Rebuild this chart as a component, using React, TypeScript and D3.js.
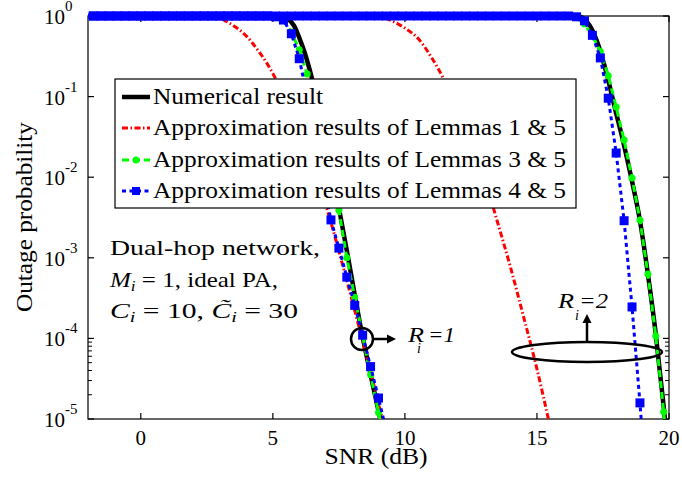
import React from "react";
import * as d3 from "d3";

// axis ticks
const xTickValues = [0, 5, 10, 15, 20];
const yTickExponents = [0, -1, -2, -3, -4, -5];
const yMinorTicks = [2e-5, 3e-5, 4e-5, 5e-5, 6e-5, 7e-5, 8e-5, 9e-5];

const legendLabels = [
  "Numerical result",
  "Approximation results of Lemmas 1 & 5",
  "Approximation results of Lemmas 3 & 5",
  "Approximation results of Lemmas 4 & 5",
];

// SNR (dB) sample grid of the marker curves: 0.3 dB steps starting at -2.1 dB
const snrGrid = d3.range(-7, 68).map((k) => k * 0.3);

// all outage values below are log10(outage probability)

// numerical result (solid black), sparse reading
const numR1Snr = [-2.1, 5.3, 5.55, 5.8, 6.0, 6.2, 6.5, 6.8, 7.1, 7.5, 7.85, 8.35, 8.7, 9.1];
const numR1 = [0, 0, -0.03, -0.12, -0.27, -0.45, -0.8, -1.22, -1.7, -2.38, -3.0, -3.9, -4.45, -5.05];
const numR2Snr = [-2.1, 16.5, 16.8, 17.0, 17.27, 17.65, 17.95, 18.26, 18.6, 18.9, 19.2, 19.5, 19.8, 20.0];
const numR2 = [0, 0, -0.04, -0.12, -0.31, -0.73, -1.14, -1.55, -2.05, -2.54, -3.2, -3.95, -4.85, -5.5];

// Lemmas 1 & 5 (red dash-dot)
const lem1R1Snr = [-2.1, 2.4, 2.8, 3.2, 3.6, 4.0, 4.4, 4.8, 5.2, 5.6, 6.0, 6.5, 7.1, 7.65, 8.2, 8.7, 9.2];
const lem1R1 = [0, 0, -0.01, -0.06, -0.14, -0.25, -0.41, -0.6, -0.84, -1.12, -1.42, -1.85, -2.45, -3.1, -3.78, -4.42, -5.07];
const lem1R2Snr = [-2.1, 8.5, 9.0, 9.5, 10.0, 10.5, 11.0, 11.5, 12.0, 12.5, 13.0, 13.5, 14.0, 14.5, 15.0, 15.5];
const lem1R2 = [0, 0, -0.01, -0.06, -0.15, -0.28, -0.51, -0.8, -1.15, -1.55, -2.0, -2.55, -3.12, -3.74, -4.38, -5.1];

// Lemmas 3 & 5 (green, circles) on snrGrid
const lem3R1 = [
  0, 0, 0, 0, 0, 0, 0, 0, 0, 0,
  0, 0, 0, 0, 0, 0, 0, 0, 0, 0,
  0, 0, 0, 0, -0.01, -0.05, -0.2, -0.42, -0.72, -1.1,
  -1.5, -1.95, -2.41, -3.0, -3.49, -3.97, -4.45, -4.92, -5.4,
];
const lem3R2 = [
  0, 0, 0, 0, 0, 0, 0, 0, 0, 0,
  0, 0, 0, 0, 0, 0, 0, 0, 0, 0,
  0, 0, 0, 0, 0, 0, 0, 0, 0, 0,
  0, 0, 0, 0, 0, 0, 0, 0, 0, 0,
  0, 0, 0, 0, 0, 0, 0, 0, 0, 0,
  0, 0, 0, 0, 0, 0, 0, 0, 0, 0,
  0, 0, -0.02, -0.1, -0.24, -0.44, -0.74, -1.13, -1.54, -2.01,
  -2.53, -3.2, -3.97, -4.91, -6.0,
];

// Lemmas 4 & 5 (blue, squares) on snrGrid
const lem4R1 = [
  0, 0, 0, 0, 0, 0, 0, 0, 0, 0,
  0, 0, 0, 0, 0, 0, 0, 0, 0, 0,
  0, 0, 0, 0, -0.01, -0.05, -0.22, -0.53, -1.0, -1.5,
  -2.05, -2.53, -2.88, -3.24, -3.59, -3.96, -4.35, -4.74, -5.15,
];
const lem4R2 = [
  0, 0, 0, 0, 0, 0, 0, 0, 0, 0,
  0, 0, 0, 0, 0, 0, 0, 0, 0, 0,
  0, 0, 0, 0, 0, 0, 0, 0, 0, 0,
  0, 0, 0, 0, 0, 0, 0, 0, 0, 0,
  0, 0, 0, 0, 0, 0, 0, 0, 0, 0,
  0, 0, 0, 0, 0, 0, 0, 0, 0, 0,
  0, 0, -0.01, -0.06, -0.24, -0.52, -1.02, -1.7, -2.54, -3.61,
  -4.8, -6.1,
];

const W = 682;
const H = 478;
const left = 88;
const right = 669;
const top = 16;
const bottom = 419;

const FONT = "'Liberation Serif', 'Times New Roman', serif";

type Pt = [number, number];

const zip = (snr: number[], vals: number[]): Pt[] => vals.map((v, i) => [snr[i], v]);

export default function App() {
  const x = d3.scaleLinear().domain([-2, 20]).range([left, right]);
  const y = d3.scaleLog().domain([1e-5, 1]).range([bottom, top]);
  const py = (l: number) => y(Math.pow(10, l));

  const smooth = d3.line<Pt>().x((d) => x(d[0])).y((d) => py(d[1])).curve(d3.curveMonotoneX);
  const straight = d3.line<Pt>().x((d) => x(d[0])).y((d) => py(d[1]));

  const inView = (d: Pt) => d[0] >= -2 && d[0] <= 20 && d[1] >= -5;

  const lem3Sets = [zip(snrGrid, lem3R1), zip(snrGrid, lem3R2)];
  const lem4Sets = [zip(snrGrid, lem4R1), zip(snrGrid, lem4R2)];

  const black = { stroke: "#000", strokeWidth: 4.5, fill: "none" };
  const red = { stroke: "#ff0000", strokeWidth: 3, fill: "none", strokeDasharray: "6,2.5,1.5,2.5" };
  const green = { stroke: "#00ff00", strokeWidth: 3, fill: "none", strokeDasharray: "7,4" };
  const blue = { stroke: "#0000ff", strokeWidth: 3, fill: "none", strokeDasharray: "4,3.5" };

  const legendRows = [97, 128, 160, 191];

  return (
    <svg
      width={W}
      height={H}
      style={{ position: "absolute", left: 0, top: 0, background: "#fff" }}
      fontFamily={FONT}
    >
      <defs>
        <clipPath id="plotClip">
          <rect x={left} y={top - 10} width={right - left} height={bottom - top + 10} />
        </clipPath>
      </defs>

      {/* axes box */}
      <rect x={left} y={top} width={right - left} height={bottom - top} fill="none" stroke="#000" strokeWidth={1.2} />

      {/* x ticks */}
      {xTickValues.map((t) => (
        <g key={"x" + t}>
          <line x1={x(t)} x2={x(t)} y1={bottom} y2={bottom - 6} stroke="#000" strokeWidth={1.2} />
          <line x1={x(t)} x2={x(t)} y1={top} y2={top + 6} stroke="#000" strokeWidth={1.2} />
          <text x={x(t)} y={445} fontSize={21} textAnchor="middle">{t}</text>
        </g>
      ))}

      {/* y ticks */}
      {yTickExponents.map((e) => {
        const yy = y(Math.pow(10, e));
        return (
          <g key={"y" + e}>
            <line x1={left} x2={left + 6} y1={yy} y2={yy} stroke="#000" strokeWidth={1.2} />
            <line x1={right} x2={right - 6} y1={yy} y2={yy} stroke="#000" strokeWidth={1.2} />
            <text x={65} y={yy + 8} fontSize={21} textAnchor="end">10</text>
            <text x={65} y={yy - 5} fontSize={15}>{e === 0 ? "0" : "-" + Math.abs(e)}</text>
          </g>
        );
      })}
      {yMinorTicks.map((t) => (
        <g key={"m" + t}>
          <line x1={left} x2={left + 4} y1={y(t)} y2={y(t)} stroke="#000" strokeWidth={1} />
          <line x1={right} x2={right - 4} y1={y(t)} y2={y(t)} stroke="#000" strokeWidth={1} />
        </g>
      ))}

      {/* axis labels */}
      <text x={376} y={464} fontSize={24} textAnchor="middle" textLength={103} lengthAdjust="spacingAndGlyphs">
        SNR (dB)
      </text>
      <text
        transform={`translate(32, 217) rotate(-90)`}
        fontSize={24}
        textAnchor="middle"
        textLength={190}
        lengthAdjust="spacingAndGlyphs"
      >
        Outage probability
      </text>

      {/* curves */}
      <g clipPath="url(#plotClip)">
        <path d={smooth(zip(numR1Snr, numR1)) || ""} {...black} />
        <path d={smooth(zip(numR2Snr, numR2)) || ""} {...black} />
        <path d={smooth(zip(lem1R1Snr, lem1R1)) || ""} {...red} />
        <path d={smooth(zip(lem1R2Snr, lem1R2)) || ""} {...red} />
        {lem3Sets.map((s, i) => (
          <path key={"g" + i} d={straight(s) || ""} {...green} />
        ))}
      </g>
      {lem3Sets.map((s, i) =>
        s.filter(inView).map((d, j) => (
          <circle key={"gc" + i + "-" + j} cx={x(d[0])} cy={py(d[1])} r={3.5} fill="#00ff00" />
        ))
      )}
      <g clipPath="url(#plotClip)">
        {lem4Sets.map((s, i) => (
          <path key={"b" + i} d={straight(s) || ""} {...blue} />
        ))}
      </g>
      {lem4Sets.map((s, i) =>
        s.filter(inView).map((d, j) => (
          <rect key={"bs" + i + "-" + j} x={x(d[0]) - 4.5} y={py(d[1]) - 4.5} width={9} height={9} fill="#0000ff" />
        ))
      )}

      {/* legend */}
      <rect x={115} y={79} width={461} height={129} fill="#fff" stroke="#000" strokeWidth={1.2} />
      {legendLabels.map((lab, i) => {
        const ly = legendRows[i];
        const style = [black, red, green, blue][i];
        return (
          <g key={"lg" + i}>
            <line x1={122} x2={150} y1={ly} y2={ly} {...style} />
            {i === 2 && <circle cx={136} cy={ly} r={3.5} fill="#00ff00" />}
            {i === 3 && <rect x={132} y={ly - 4} width={8} height={8} fill="#0000ff" />}
            <text x={153} y={ly + 7} fontSize={23} textLength={i === 0 ? 170 : 413} lengthAdjust="spacingAndGlyphs">
              {lab}
            </text>
          </g>
        );
      })}

      {/* scenario text */}
      <g fontSize={22}>
        <text x={110} y={255} textLength={210} lengthAdjust="spacingAndGlyphs">Dual-hop network,</text>
        <text x={110} y={287} textLength={168} lengthAdjust="spacingAndGlyphs">
          <tspan fontStyle="italic">M</tspan>
          <tspan fontStyle="italic" fontSize={15} dy={4}>i</tspan>
          <tspan dy={-4}> = 1, ideal PA,</tspan>
        </text>
        <text x={110} y={318} textLength={188} lengthAdjust="spacingAndGlyphs">
          <tspan fontStyle="italic">C</tspan>
          <tspan fontStyle="italic" fontSize={15} dy={4}>i</tspan>
          <tspan dy={-4}> = 10, </tspan>
          <tspan fontStyle="italic">{"C\u0303"}</tspan>
          <tspan fontStyle="italic" fontSize={15} dy={4}>i</tspan>
          <tspan dy={-4}> = 30</tspan>
        </text>
      </g>

      {/* R_i = 1 marker */}
      <circle cx={362} cy={339} r={11} fill="none" stroke="#000" strokeWidth={2.5} />
      <line x1={373} x2={389} y1={339} y2={339} stroke="#000" strokeWidth={2.5} />
      <path d="M396,339 L387,334.5 L387,343.5 Z" fill="#000" />
      <g fontStyle="italic" fontFamily="'Liberation Serif', serif">
        <text x={408} y={342} fontSize={20} textLength={16} lengthAdjust="spacingAndGlyphs">R</text>
        <text x={417} y={353} fontSize={14}>i</text>
        <text x={428} y={342} fontSize={20} textLength={27} lengthAdjust="spacingAndGlyphs">=1</text>
      </g>

      {/* R_i = 2 marker */}
      <ellipse cx={587} cy={352} rx={75} ry={10} fill="none" stroke="#000" strokeWidth={2.5} />
      <line x1={587} x2={587} y1={342} y2={322} stroke="#000" strokeWidth={2.5} />
      <path d="M587,314 L582.5,323 L591.5,323 Z" fill="#000" />
      <g fontStyle="italic" fontFamily="'Liberation Serif', serif">
        <text x={558} y={308} fontSize={20} textLength={16} lengthAdjust="spacingAndGlyphs">R</text>
        <text x={575} y={320} fontSize={14}>i</text>
        <text x={579} y={308} fontSize={20} textLength={29} lengthAdjust="spacingAndGlyphs">=2</text>
      </g>
    </svg>
  );
}
